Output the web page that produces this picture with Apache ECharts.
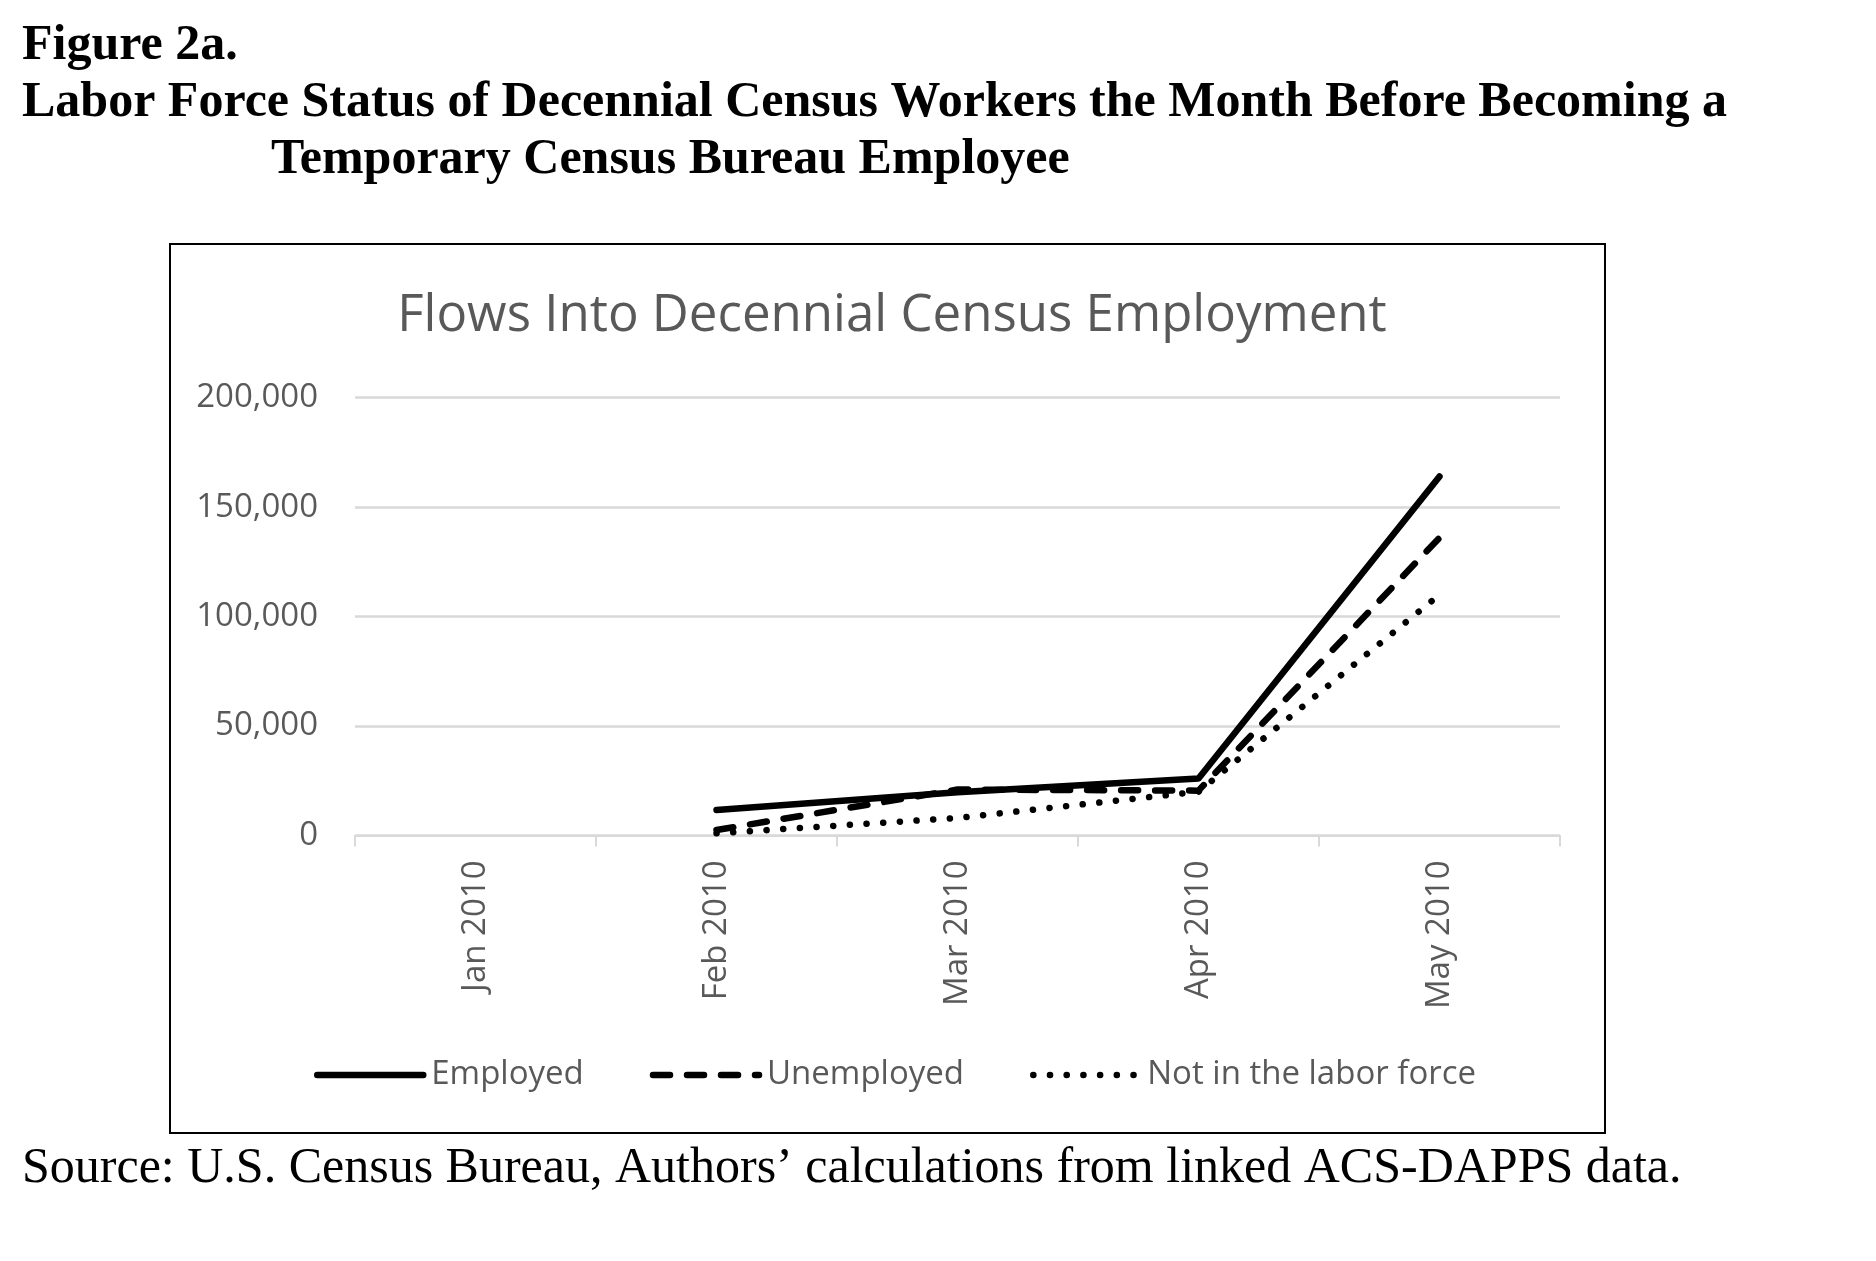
<!DOCTYPE html>
<html>
<head>
<meta charset="utf-8">
<script src="https://cdn.jsdelivr.net/npm/echarts@6/dist/echarts.min.js"></script>
<style>
  html, body { margin: 0; padding: 0; background: #ffffff; }
  #chart { width: 1876px; height: 1261px; }
</style>
</head>
<body>
<div id="chart"></div>
<script>
const categories = ['Jan 2010', 'Feb 2010', 'Mar 2010', 'Apr 2010', 'May 2010'];
const employed = [null, 11700, 19800, 26000, 164000];
const unemployed = [null, 2500, 21000, 20500, 136000];
const notInLaborForce = [null, 1000, 8000, 20000, 110000];
const seriesNames = ['Employed', 'Unemployed', 'Not in the labor force'];
const yMin = 0, yMax = 200000, yInterval = 50000;

const headerLines = [
  'Figure 2a.',
  'Labor Force Status of Decennial Census Workers the Month Before Becoming a',
  'Temporary Census Bureau Employee'
];
const chartTitle = 'Flows Into Decennial Census Employment';
const sourceText = 'Source: U.S. Census Bureau, Authors\u2019 calculations from linked ACS-DAPPS data.';

const sans = "'Open Sans', sans-serif";
const serif = "'Liberation Serif', 'Times New Roman', serif";
const grey = '#595959';
const gridGrey = '#d9d9d9';

const chart = echarts.init(document.getElementById('chart'), null, { renderer: 'canvas' });

chart.setOption({
  animation: false,
  backgroundColor: '#ffffff',
  graphic: [
    { type: 'rect', shape: { x: 170, y: 244, width: 1435, height: 889 },
      style: { fill: 'none', stroke: '#000', lineWidth: 2 }, z: 0 },
    { type: 'text', x: 22, y: 46, style: { text: headerLines[0], font: 'bold 50px ' + serif, fill: '#000', verticalAlign: 'middle' } },
    { type: 'text', x: 22, y: 103, style: { text: headerLines[1], font: 'bold 50px ' + serif, fill: '#000', verticalAlign: 'middle' } },
    { type: 'text', x: 271, y: 160, style: { text: headerLines[2], font: 'bold 50px ' + serif, fill: '#000', verticalAlign: 'middle' } },
    { type: 'text', x: 892, y: 316, style: { text: chartTitle, font: '51px ' + sans, fill: grey, align: 'center', verticalAlign: 'middle' } },
    { type: 'text', x: 22, y: 1169, style: { text: sourceText, font: '50px ' + serif, fill: '#000', verticalAlign: 'middle' } }
  ],
  grid: { left: 355, right: 316, top: 397.7, bottom: 425.5 },
  legend: {
    data: seriesNames,
    left: 309,
    top: 1050,
    itemWidth: 106,
    itemHeight: 14,
    itemGap: 66,
    lineStyle: { width: 6.5 },
    itemStyle: { opacity: 0 },
    textStyle: { fontFamily: sans, fontSize: 33, color: grey, lineHeight: 40, padding: [0, 0, 0, 3] }
  },
  xAxis: {
    type: 'category',
    data: categories,
    boundaryGap: true,
    axisLine: { show: true, lineStyle: { color: gridGrey, width: 2 } },
    axisTick: { show: true, length: 11, lineStyle: { color: gridGrey, width: 2 } },
    axisLabel: { rotate: 90, margin: 25, fontFamily: sans, fontSize: 33, color: grey, interval: 0 },
    splitLine: { show: false }
  },
  yAxis: {
    type: 'value',
    min: yMin, max: yMax, interval: yInterval,
    axisLine: { show: false },
    axisTick: { show: false },
    axisLabel: { margin: 37, fontFamily: sans, fontSize: 33, color: grey },
    splitLine: { show: true, lineStyle: { color: gridGrey, width: 2.5 } }
  },
  series: [
    { name: seriesNames[0], type: 'line', data: employed, symbol: 'none', connectNulls: false,
      lineStyle: { color: '#000', width: 6.5, type: 'solid', cap: 'round', join: 'round' },
      itemStyle: { color: '#000' } },
    { name: seriesNames[1], type: 'line', data: unemployed, symbol: 'none', connectNulls: false,
      lineStyle: { color: '#000', width: 6.5, type: [17, 17], cap: 'round', join: 'round' },
      itemStyle: { color: '#000' } },
    { name: seriesNames[2], type: 'line', data: notInLaborForce, symbol: 'none', connectNulls: false,
      lineStyle: { color: '#000', width: 6.5, type: [0.1, 16.6], cap: 'round', join: 'round' },
      itemStyle: { color: '#000' } }
  ]
});
</script>
</body>
</html>
